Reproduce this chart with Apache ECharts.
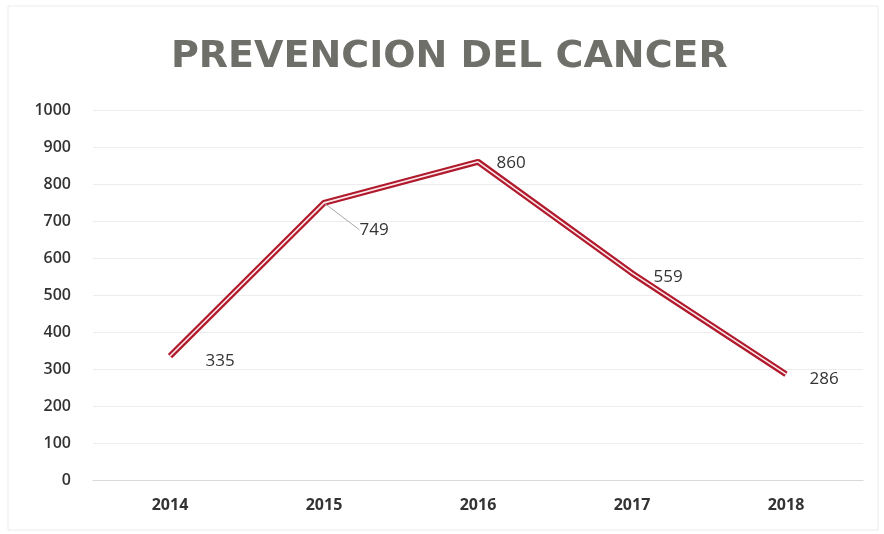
<!DOCTYPE html>
<html><head><meta charset="utf-8">
<script src="https://cdn.jsdelivr.net/npm/echarts@6/dist/echarts.min.js"></script>
<style>html,body{margin:0;padding:0;background:#fff}#c{width:884px;height:534px}</style>
</head><body><div id="c"></div>
<script>
const titleText = 'PREVENCION DEL CANCER';
const years = ['2014', '2015', '2016', '2017', '2018'];
const values = [335, 749, 860, 559, 286];
const yTicks = [0, 100, 200, 300, 400, 500, 600, 700, 800, 900, 1000];

const labelShift = [[30, 5], [30, 27], [13, 1], [16, 4], [18, 5]];

const chart = echarts.init(document.getElementById('c'));
chart.setOption({
  backgroundColor: '#ffffff',
  animation: false,
  title: {
    text: titleText, left: 166, top: 33,
    textStyle: { fontFamily: 'DejaVu Sans', fontWeight: 'bold', fontSize: 38, color: '#6f6f6a' }
  },
  graphic: [{ type: 'rect', shape: { x: 8, y: 6, width: 870, height: 524 }, style: { fill: 'none', stroke: '#ececec', lineWidth: 1 }, silent: true }],
  grid: { left: 93, right: 21, top: 110, bottom: 54 },
  xAxis: {
    type: 'category', data: years, boundaryGap: true,
    axisLine: { show: true, lineStyle: { color: '#d9d9d9' } },
    axisTick: { show: false },
    axisLabel: { fontFamily: 'Open Sans', fontSize: 16, fontWeight: 'bold', color: '#333', margin: 17 }
  },
  yAxis: {
    type: 'value', min: yTicks[0], max: yTicks[yTicks.length - 1], interval: 100,
    axisLine: { show: false }, axisTick: { show: false },
    axisLabel: { fontFamily: 'Open Sans', fontSize: 16, fontWeight: 600, color: '#333', margin: 22, formatter: function (v) { return String(v); } },
    splitLine: { lineStyle: { color: '#ededed' } }
  },
  series: [
    {
      type: 'line', symbol: 'circle', symbolSize: 1, z: 2,
      itemStyle: { color: 'rgba(0,0,0,0)' },
      lineStyle: { color: '#b01a2c', width: 6 },
      label: { show: true, position: 'right', fontFamily: 'Open Sans', fontSize: 17, color: '#333', opacity: 1 },
      labelLayout: function (p) { const s = labelShift[p.dataIndex]; return { dx: s[0], dy: s[1] }; },
      labelLine: { show: false },
      data: values.map(function (v, i) {
        return i === 1 ? { value: v, labelLine: { show: true, lineStyle: { color: '#aaa', width: 1 } } } : v;
      })
    },
    {
      type: 'line', data: values, symbol: 'none', z: 3, silent: true,
      lineStyle: { color: '#fbe7ea', width: 1.6 }
    }
  ]
});
</script></body></html>
